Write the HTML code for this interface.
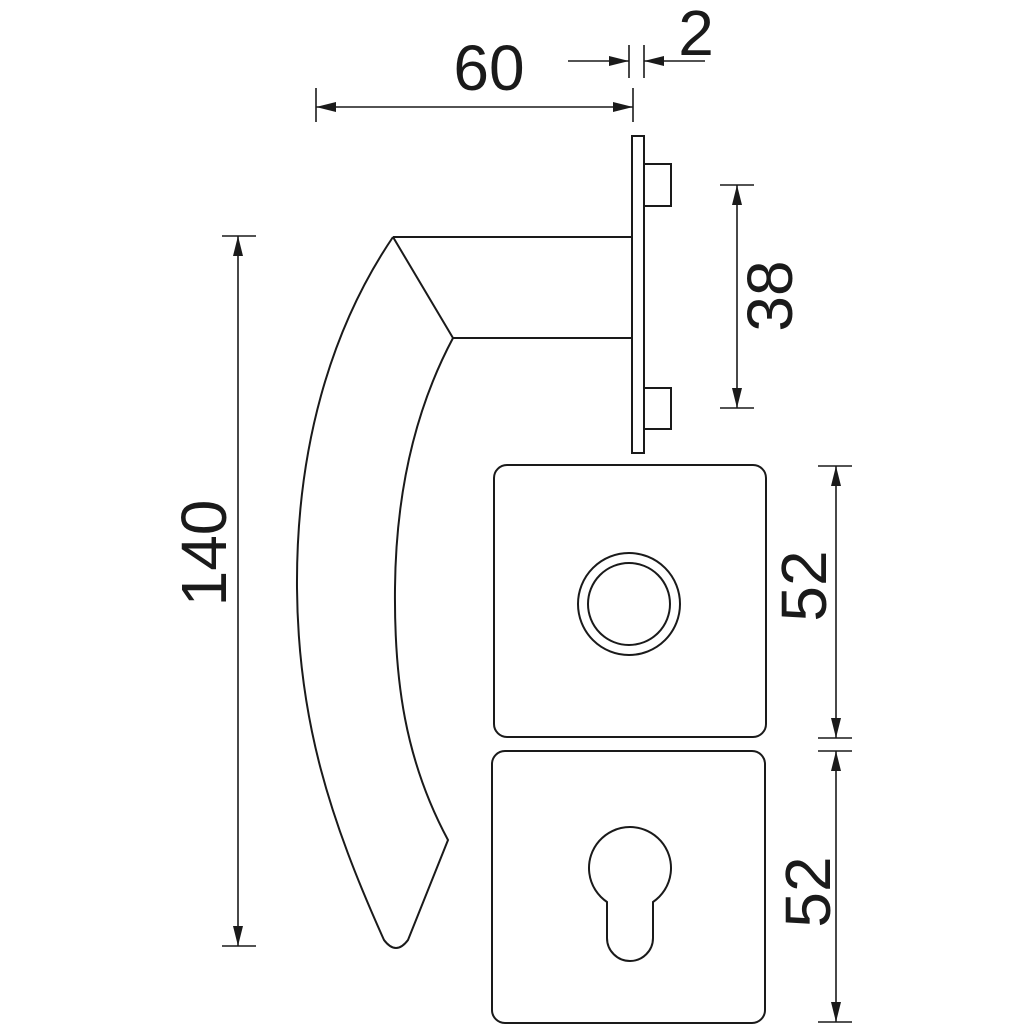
<!DOCTYPE html>
<html><head><meta charset="utf-8"><style>
html,body{margin:0;padding:0;background:#fff;}
svg{display:block;}
text{font-family:"Liberation Sans",sans-serif;fill:#1a1a1a;}
</style></head><body>
<svg width="1024" height="1024" viewBox="0 0 1024 1024" xmlns="http://www.w3.org/2000/svg">
<defs>
<marker id="a" viewBox="0 0 20 10" refX="20" refY="5" markerWidth="20" markerHeight="10" markerUnits="userSpaceOnUse" orient="auto-start-reverse">
<path d="M0,0 L20,5 L0,10 Z" fill="#1a1a1a"/>
</marker>
</defs>
<g fill="none" stroke="#1a1a1a" stroke-width="2">
<!-- handle -->
<path d="M393,237 L631,237 M453,338 L631,338 M393,237 L453,338"/>
<path d="M393,237 C330,330 296,450 297,588 C298,720 330,820 384,940 Q396,956 408,940 L448,840 C405,760 394,680 395,588 C396,480 420,400 453,338"/>
<!-- rose -->
<rect x="632" y="136" width="12" height="317"/>
<rect x="644" y="164" width="27" height="42"/>
<rect x="644" y="388" width="27" height="41"/>
<!-- plates -->
<rect x="494" y="465" width="272" height="272" rx="13"/>
<circle cx="629" cy="604" r="51"/>
<circle cx="629" cy="604" r="41"/>
<rect x="492" y="751" width="273" height="272" rx="13"/>
<path d="M607,902 L607,938 A23,23 0 0 0 653,938 L653,902 A41,41 0 1 0 607,902 Z"/>
</g>
<g stroke="#1a1a1a" stroke-width="1.6" fill="none">
<!-- 60 -->
<line x1="316" y1="88" x2="316" y2="122"/>
<line x1="633" y1="88" x2="633" y2="122"/>
<line x1="316" y1="107" x2="633" y2="107" marker-start="url(#a)" marker-end="url(#a)"/>
<!-- 2 -->
<line x1="629" y1="45" x2="629" y2="78"/>
<line x1="644" y1="45" x2="644" y2="78"/>
<line x1="568" y1="61" x2="629" y2="61" marker-end="url(#a)"/>
<line x1="705" y1="61" x2="644" y2="61" marker-end="url(#a)"/>
<!-- 38 -->
<line x1="720" y1="185" x2="754" y2="185"/>
<line x1="720" y1="408" x2="754" y2="408"/>
<line x1="737" y1="185" x2="737" y2="408" marker-start="url(#a)" marker-end="url(#a)"/>
<!-- 140 -->
<line x1="222" y1="236" x2="256" y2="236"/>
<line x1="222" y1="946" x2="256" y2="946"/>
<line x1="238" y1="236" x2="238" y2="946" marker-start="url(#a)" marker-end="url(#a)"/>
<!-- 52 -->
<line x1="818" y1="466" x2="852" y2="466"/>
<line x1="818" y1="738" x2="852" y2="738"/>
<line x1="818" y1="751" x2="852" y2="751"/>
<line x1="818" y1="1022" x2="852" y2="1022"/>
<line x1="836" y1="466" x2="836" y2="738" marker-start="url(#a)" marker-end="url(#a)"/>
<line x1="836" y1="751" x2="836" y2="1022" marker-start="url(#a)" marker-end="url(#a)"/>
</g>
<text x="489" y="90" font-size="64" text-anchor="middle">60</text>
<text x="696" y="55" font-size="64" text-anchor="middle">2</text>
<text transform="translate(792,296) rotate(-90)" font-size="64" text-anchor="middle">38</text>
<text transform="translate(226,553) rotate(-90)" font-size="64" text-anchor="middle">140</text>
<text transform="translate(826,586) rotate(-90)" font-size="64" text-anchor="middle">52</text>
<text transform="translate(830,892) rotate(-90)" font-size="64" text-anchor="middle">52</text>
</svg>
</body></html>
